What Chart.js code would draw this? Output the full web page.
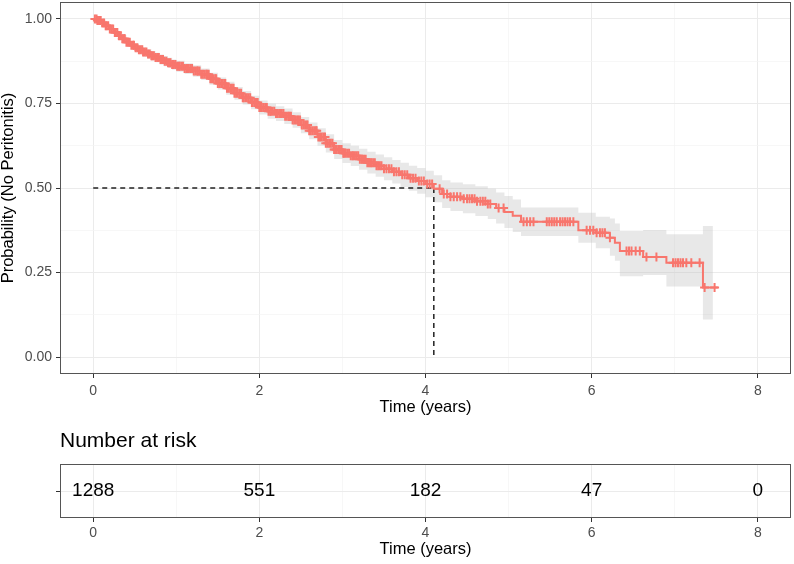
<!DOCTYPE html>
<html>
<head>
<meta charset="utf-8">
<script src="https://cdn.jsdelivr.net/npm/chart.js@4.4.1/dist/chart.umd.min.js"></script>
<style>
  body { margin: 0; background: #fff; }
  #wrap { position: relative; width: 794px; height: 564px; }
  canvas { position: absolute; left: 0; }
  #kmChart { top: 0; }
  #riskChart { top: 420px; }
</style>
</head>
<body>
<div id="wrap">
  <canvas id="kmChart" width="794" height="420"></canvas>
  <canvas id="riskChart" width="794" height="144"></canvas>
</div>
<script>
// ===== DATA =====
// survival curve knots (value held from that time on)
const kmTime = [0, 0.05, 0.10, 0.15, 0.20, 0.25, 0.30, 0.35, 0.40, 0.45, 0.50, 0.55, 0.60, 0.65, 0.70, 0.75, 0.80, 0.85, 0.90, 0.95,
  1.00, 1.10, 1.20, 1.30, 1.40, 1.50, 1.60, 1.70, 1.80, 1.90, 2.00, 2.10, 2.20, 2.30, 2.40, 2.50, 2.60, 2.70, 2.80, 2.90,
  3.00, 3.10, 3.20, 3.30, 3.40, 3.50, 3.60, 3.70, 3.80, 3.90, 4.00, 4.10, 4.20, 4.30, 4.45, 4.60, 4.75, 4.85, 4.95, 5.05,
  5.15, 5.84, 6.05, 6.22, 6.28, 6.34, 6.62, 6.90, 7.34, 7.52];
const kmSurv = [1.000, 0.995, 0.988, 0.980, 0.970, 0.960, 0.950, 0.941, 0.931, 0.922, 0.915, 0.909, 0.902, 0.896, 0.891, 0.886, 0.880, 0.875, 0.870, 0.865,
  0.860, 0.853, 0.846, 0.836, 0.823, 0.809, 0.795, 0.780, 0.767, 0.753, 0.738, 0.727, 0.720, 0.712, 0.701, 0.686, 0.669, 0.651, 0.632, 0.614,
  0.603, 0.595, 0.585, 0.575, 0.566, 0.557, 0.548, 0.539, 0.529, 0.521, 0.512, 0.498, 0.482, 0.474, 0.468, 0.461, 0.453, 0.441, 0.429, 0.418,
  0.400, 0.375, 0.368, 0.353, 0.338, 0.314, 0.296, 0.279, 0.206, 0.206];
const ciLower = [1.000, 0.991, 0.982, 0.973, 0.962, 0.951, 0.940, 0.930, 0.920, 0.910, 0.903, 0.896, 0.889, 0.882, 0.877, 0.872, 0.865, 0.860, 0.855, 0.850,
  0.844, 0.837, 0.829, 0.819, 0.805, 0.791, 0.776, 0.761, 0.747, 0.733, 0.717, 0.705, 0.698, 0.689, 0.678, 0.662, 0.644, 0.625, 0.605, 0.586,
  0.574, 0.565, 0.554, 0.543, 0.533, 0.523, 0.513, 0.503, 0.492, 0.483, 0.473, 0.458, 0.441, 0.432, 0.425, 0.417, 0.408, 0.395, 0.382, 0.370,
  0.358, 0.338, 0.322, 0.300, 0.285, 0.239, 0.243, 0.209, 0.111, 0.111];
const ciUpper = [1.000, 0.999, 0.994, 0.987, 0.978, 0.969, 0.960, 0.952, 0.942, 0.934, 0.927, 0.922, 0.915, 0.910, 0.905, 0.900, 0.895, 0.890, 0.885, 0.880,
  0.876, 0.869, 0.863, 0.853, 0.841, 0.827, 0.814, 0.799, 0.787, 0.773, 0.759, 0.749, 0.742, 0.735, 0.724, 0.710, 0.694, 0.677, 0.659, 0.642,
  0.632, 0.625, 0.616, 0.607, 0.599, 0.591, 0.583, 0.575, 0.566, 0.559, 0.551, 0.538, 0.523, 0.516, 0.511, 0.505, 0.498, 0.487, 0.476, 0.466,
  0.442, 0.427, 0.415, 0.410, 0.395, 0.373, 0.376, 0.363, 0.388, 0.388];
const ciEnd = 7.46;

// censoring times (+ marks)
const censorTimes = [0.02, 0.04, 0.05, 0.07, 0.09, 0.11, 0.13, 0.15, 0.16, 0.18, 0.20, 0.22, 0.24, 0.26, 0.27, 0.29, 0.31, 0.33, 0.35, 0.37,
  0.38, 0.40, 0.42, 0.44, 0.46, 0.48, 0.49, 0.51, 0.53, 0.55, 0.57, 0.59, 0.60, 0.62, 0.64, 0.66, 0.68, 0.70, 0.71, 0.73,
  0.75, 0.77, 0.79, 0.81, 0.82, 0.84, 0.86, 0.88, 0.90, 0.92, 0.93, 0.95, 0.97, 0.99, 1.01, 1.03, 1.04, 1.06, 1.08, 1.10,
  1.12, 1.14, 1.15, 1.17, 1.19, 1.21, 1.23, 1.25, 1.26, 1.28, 1.30, 1.32, 1.34, 1.36, 1.37, 1.39, 1.41, 1.43, 1.45, 1.47,
  1.48, 1.50, 1.52, 1.54, 1.56, 1.58, 1.59, 1.61, 1.63, 1.65, 1.67, 1.69, 1.70, 1.72, 1.74, 1.76, 1.78, 1.80, 1.81, 1.83,
  1.85, 1.87, 1.89, 1.91, 1.92, 1.94, 1.96, 1.98, 2.00, 2.02, 2.03, 2.05, 2.07, 2.09, 2.11, 2.13, 2.14, 2.16, 2.18, 2.20,
  2.22, 2.24, 2.25, 2.27, 2.29, 2.31, 2.33, 2.35, 2.36, 2.38, 2.40, 2.42, 2.44, 2.46, 2.47, 2.49, 2.51, 2.53, 2.55, 2.57,
  2.58, 2.60, 2.62, 2.64, 2.66, 2.68, 2.69, 2.71, 2.73, 2.75, 2.77, 2.79, 2.80, 2.82, 2.84, 2.86, 2.88, 2.90, 2.91, 2.93,
  2.95, 2.97, 2.99, 3.01, 3.02, 3.04, 3.06, 3.08, 3.10, 3.12, 3.13, 3.15, 3.17, 3.19, 3.21, 3.23, 3.24, 3.26, 3.28, 3.30,
  3.32, 3.34, 3.35, 3.37, 3.39, 3.41, 3.43, 3.45, 3.47, 3.50, 3.53, 3.56, 3.59, 3.62, 3.65, 3.68, 3.72, 3.75, 3.78, 3.82,
  3.85, 3.88, 3.92, 3.95, 3.98, 4.02, 4.05, 4.08, 4.17, 4.22, 4.26, 4.30, 4.34, 4.38, 4.42, 4.46, 4.50, 4.53, 4.56, 4.59,
  4.62, 4.66, 4.69, 4.72, 4.75, 4.78, 4.88, 4.94, 5.18, 5.22, 5.26, 5.30, 5.46, 5.49, 5.52, 5.55, 5.58, 5.62, 5.65, 5.68,
  5.71, 5.74, 5.78, 5.94, 5.98, 6.02, 6.06, 6.10, 6.13, 6.16, 6.22, 6.42, 6.45, 6.48, 6.53, 6.58, 6.66, 6.78, 6.98, 7.01,
  7.04, 7.07, 7.10, 7.14, 7.20, 7.30, 7.36, 7.48];

// median survival
const medianTime = 4.1;
const medianSurv = 0.5;

// risk table
const riskTimes = [0, 2, 4, 6, 8];
const riskCounts = [1288, 551, 182, 47, 0];

// axes
const xMajor = [0, 2, 4, 6, 8];
const xMinor = [1, 3, 5, 7];
const yMajor = [0, 0.25, 0.5, 0.75, 1];
const yMinor = [0.125, 0.375, 0.625, 0.875];

const curveColor = '#F8766D';
Chart.defaults.font.family = '"Liberation Sans", Arial, sans-serif';
Chart.defaults.animation = false;

// ===== HELPERS =====
function survAt(t) {
  let s = kmSurv[0];
  for (let i = 0; i < kmTime.length; i++) {
    if (kmTime[i] <= t) s = kmSurv[i];
  }
  return s;
}

function pts(xs, ys) {
  return xs.map((x, i) => ({ x: x, y: ys[i] }));
}

function withEnd(arr, endT) {
  // band stops a bit before the last censor mark
  let p = pts(kmTime, arr);
  p[p.length - 1] = { x: endT, y: arr[arr.length - 1] };
  return p;
}

function fixTicks(values) {
  return scale => { scale.ticks = values.slice().sort((a, b) => a - b).map(v => ({ value: v })); };
}

function noPad(s) {
  s.paddingTop = 0; s.paddingBottom = 0; s.paddingLeft = 0; s.paddingRight = 0;
}

function gridFor(major) {
  return {
    color: c => major.includes(c.tick && c.tick.value) ? '#ebebeb' : '#f3f3f3',
    lineWidth: c => major.includes(c.tick && c.tick.value) ? 1 : 0.7,
    tickColor: c => major.includes(c.tick && c.tick.value) ? '#333' : 'rgba(0,0,0,0)',
    tickLength: 4,
    tickWidth: 1
  };
}

const tickFont = { size: 14 };
const titleFont = { size: 16.5 };

function xAxis(height, tickPad, pad) {
  return {
    type: 'linear',
    min: -0.4,
    max: 8.4,
    afterBuildTicks: fixTicks(xMajor.concat(xMinor)),
    afterFit: s => { s.height = height; noPad(s); },
    border: { display: false },
    grid: gridFor(xMajor),
    ticks: {
      autoSkip: false, maxRotation: 0, color: '#4d4d4d', font: tickFont, padding: tickPad,
      callback: v => xMajor.includes(v) ? String(v) : ''
    },
    title: { display: true, text: 'Time (years)', color: '#000', font: titleFont, padding: { top: 0, bottom: pad } }
  };
}

const panelBox = {
  id: 'panelBox',
  afterDatasetsDraw(chart) {
    const a = chart.chartArea;
    const ctx = chart.ctx;
    ctx.save();
    ctx.strokeStyle = '#555';
    ctx.lineWidth = 1;
    ctx.strokeRect(Math.round(a.left) + 0.5, Math.round(a.top) + 0.5, Math.round(a.right - a.left) - 1, Math.round(a.bottom - a.top) - 1);
    ctx.restore();
  }
};

// ===== KM PLOT =====
const censorPts = censorTimes.map(t => ({ x: t, y: survAt(t) }));

new Chart(document.getElementById('kmChart'), {
  type: 'scatter',
  data: {
    datasets: [
      { data: censorPts, pointStyle: 'cross', pointRadius: 4.5, pointBorderWidth: 2, borderColor: curveColor, backgroundColor: curveColor, showLine: false, order: 0 },
      { data: pts(kmTime, kmSurv), showLine: true, stepped: true, borderColor: curveColor, borderWidth: 2, pointRadius: 0, order: 1 },
      { data: [{ x: 0, y: medianSurv }, { x: medianTime, y: medianSurv }], showLine: true, borderColor: '#222', borderWidth: 1.5, borderDash: [5, 4], pointRadius: 0, order: 2 },
      { data: [{ x: medianTime, y: medianSurv }, { x: medianTime, y: 0 }], showLine: true, borderColor: '#222', borderWidth: 1.5, borderDash: [5, 4], pointRadius: 0, order: 3 },
      { data: withEnd(ciUpper, ciEnd), showLine: true, stepped: true, borderWidth: 0, pointRadius: 0, fill: '+1', backgroundColor: 'rgba(190,190,190,0.36)', order: 4 },
      { data: withEnd(ciLower, ciEnd), showLine: true, stepped: true, borderWidth: 0, pointRadius: 0, fill: false, order: 5 }
    ]
  },
  options: {
    responsive: false,
    events: [],
    layout: { autoPadding: false, padding: { top: 2, right: 3, left: 0, bottom: 0 } },
    plugins: { legend: { display: false }, tooltip: { enabled: false } },
    scales: {
      x: xAxis(46, 5, 3),
      y: {
        type: 'linear',
        min: -0.05,
        max: 1.05,
        afterBuildTicks: fixTicks(yMajor.concat(yMinor)),
        afterFit: s => { s.width = 60; noPad(s); },
        border: { display: false },
        grid: gridFor(yMajor),
        ticks: {
          autoSkip: false, color: '#4d4d4d', font: tickFont, padding: 4,
          callback: v => yMajor.includes(v) ? v.toFixed(2) : ''
        },
        title: { display: true, text: 'Probability (No Peritonitis)', color: '#000', font: { size: 16.5, lineHeight: 1 }, padding: { top: 0, bottom: 0 } }
      }
    }
  },
  plugins: [panelBox]
});

// ===== RISK TABLE =====
const riskLabels = {
  id: 'riskLabels',
  afterDatasetsDraw(chart) {
    const ctx = chart.ctx;
    const y = chart.scales.y.getPixelForValue(0.5);
    ctx.save();
    ctx.font = '19px "Liberation Sans", Arial, sans-serif';
    ctx.fillStyle = '#000';
    ctx.textAlign = 'center';
    ctx.textBaseline = 'middle';
    riskTimes.forEach((t, i) => {
      ctx.fillText(String(riskCounts[i]), chart.scales.x.getPixelForValue(t), y);
    });
    ctx.restore();
  }
};

new Chart(document.getElementById('riskChart'), {
  type: 'scatter',
  data: { datasets: [] },
  options: {
    responsive: false,
    events: [],
    layout: { autoPadding: false, padding: { top: 0, right: 3, left: 0, bottom: 0 } },
    plugins: {
      legend: { display: false },
      tooltip: { enabled: false },
      title: {
        display: true, text: 'Number at risk', align: 'start', fullSize: false,
        color: '#000', font: { size: 21, weight: 'normal' }, padding: { top: 9, bottom: 10 }
      }
    },
    scales: {
      x: xAxis(46, 3, 5),
      y: {
        type: 'linear',
        min: 0,
        max: 1,
        afterBuildTicks: s => { s.ticks = [{ value: 0.5 }]; },
        afterFit: s => { s.width = 60; noPad(s); },
        border: { display: false },
        grid: { color: '#ebebeb', tickColor: '#333', tickLength: 4 },
        ticks: { callback: () => '', padding: 0 }
      }
    }
  },
  plugins: [panelBox, riskLabels]
});
</script>
</body>
</html>
